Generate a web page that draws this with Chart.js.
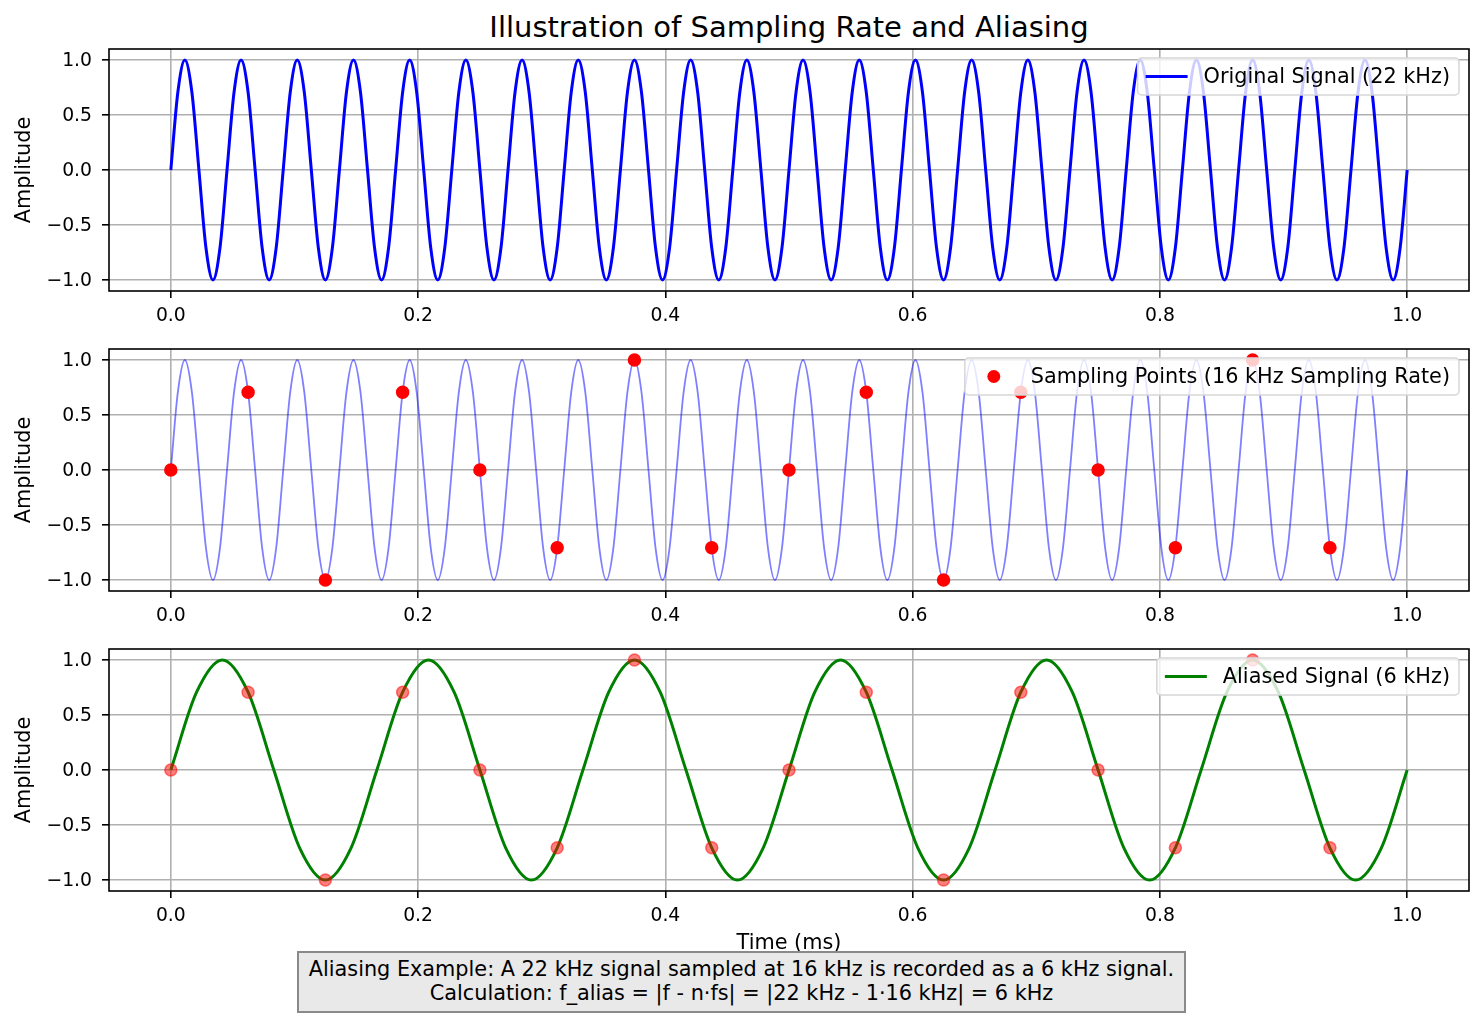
<!DOCTYPE html>
<html>
<head>
<meta charset="utf-8">
<script src="https://cdn.jsdelivr.net/npm/chart.js@4.4.1/dist/chart.umd.min.js"></script>
<style>
  body { margin: 0; background: #fff; }
  #wrap { position: relative; width: 1484px; height: 1020px; font-family: "DejaVu Sans", sans-serif; }
  canvas { position: absolute; left: 0; }
  #title { position: absolute; left: 289px; width: 1000px; top: 9px; text-align: center; font-size: 29px; line-height: 36px; color: #000; }
  #note { position: absolute; left: 297px; top: 951px; width: 885px; height: 54px; box-sizing: content-box;
          background: #e9e9e9; border: 2px solid #8a8a8a; text-align: center; font-size: 20.8px; line-height: 24px; padding-top: 4px; }
</style>
</head>
<body>
<div id="wrap">
  <div id="title">Illustration of Sampling Rate and Aliasing</div>
  <canvas id="c1" width="1484" height="331" style="top:0px"></canvas>
  <canvas id="c2" width="1484" height="320" style="top:311px"></canvas>
  <canvas id="c3" width="1484" height="345" style="top:611px"></canvas>
  <div id="note">Aliasing Example: A 22 kHz signal sampled at 16 kHz is recorded as a 6 kHz signal.<br>Calculation: f_alias = |f - n·fs| = |22 kHz - 1·16 kHz| = 6 kHz</div>
</div>
<script>
const xTicks = [0, 0.2, 0.4, 0.6, 0.8, 1.0];
const yTicks = [-1, -0.5, 0, 0.5, 1];

// 22 kHz signal, values read every 1/8 period
const origStep = 1 / 176;
const origValues = [
  0, 0.707, 1, 0.707, 0, -0.707, -1, -0.707,
  0, 0.707, 1, 0.707, 0, -0.707, -1, -0.707,
  0, 0.707, 1, 0.707, 0, -0.707, -1, -0.707,
  0, 0.707, 1, 0.707, 0, -0.707, -1, -0.707,
  0, 0.707, 1, 0.707, 0, -0.707, -1, -0.707,
  0, 0.707, 1, 0.707, 0, -0.707, -1, -0.707,
  0, 0.707, 1, 0.707, 0, -0.707, -1, -0.707,
  0, 0.707, 1, 0.707, 0, -0.707, -1, -0.707,
  0, 0.707, 1, 0.707, 0, -0.707, -1, -0.707,
  0, 0.707, 1, 0.707, 0, -0.707, -1, -0.707,
  0, 0.707, 1, 0.707, 0, -0.707, -1, -0.707,
  0, 0.707, 1, 0.707, 0, -0.707, -1, -0.707,
  0, 0.707, 1, 0.707, 0, -0.707, -1, -0.707,
  0, 0.707, 1, 0.707, 0, -0.707, -1, -0.707,
  0, 0.707, 1, 0.707, 0, -0.707, -1, -0.707,
  0, 0.707, 1, 0.707, 0, -0.707, -1, -0.707,
  0, 0.707, 1, 0.707, 0, -0.707, -1, -0.707,
  0, 0.707, 1, 0.707, 0, -0.707, -1, -0.707,
  0, 0.707, 1, 0.707, 0, -0.707, -1, -0.707,
  0, 0.707, 1, 0.707, 0, -0.707, -1, -0.707,
  0, 0.707, 1, 0.707, 0, -0.707, -1, -0.707,
  0, 0.707, 1, 0.707, 0, -0.707, -1, -0.707,
  0
];

// 6 kHz aliased signal, values every 1/8 period
const aliasStep = 1 / 48;
const aliasValues = [
  0, 0.707, 1, 0.707, 0, -0.707, -1, -0.707,
  0, 0.707, 1, 0.707, 0, -0.707, -1, -0.707,
  0, 0.707, 1, 0.707, 0, -0.707, -1, -0.707,
  0, 0.707, 1, 0.707, 0, -0.707, -1, -0.707,
  0, 0.707, 1, 0.707, 0, -0.707, -1, -0.707,
  0, 0.707, 1, 0.707, 0, -0.707, -1, -0.707,
  0
];

// samples at 16 kHz
const sampleTimes = [0, 0.0625, 0.125, 0.1875, 0.25, 0.3125, 0.375, 0.4375,
                     0.5, 0.5625, 0.625, 0.6875, 0.75, 0.8125, 0.875, 0.9375];
const sampleValues = [0, 0.707, -1, 0.707, 0, -0.707, 1, -0.707,
                      0, 0.707, -1, 0.707, 0, -0.707, 1, -0.707];

const FONT = "'DejaVu Sans', sans-serif";

function series(values, step) {
    return values.map((v, i) => ({ x: i * step, y: v }));
}
const samplePts = sampleTimes.map((t, i) => ({ x: t, y: sampleValues[i] }));

const frame = {
    id: 'frame',
    afterDatasetsDraw(chart) {
        const a = chart.chartArea, ctx = chart.ctx;
        ctx.save();
        ctx.strokeStyle = '#000';
        ctx.lineWidth = 1.6;
        ctx.strokeRect(a.left, a.top, a.right - a.left, a.bottom - a.top);
        ctx.restore();
    }
};

const boxLegend = {
    id: 'boxLegend',
    afterDraw(chart, args, o) {
        if (!o.label) return;
        const a = chart.chartArea, ctx = chart.ctx;
        ctx.save();
        ctx.font = '20.8px ' + FONT;
        const tw = ctx.measureText(o.label).width;
        const w = 8 + 42 + 16 + tw + 9;
        const h = 37;
        const x = a.right - 10 - w, y = a.top + 9;
        ctx.beginPath();
        ctx.roundRect(x, y, w, h, 4);
        ctx.fillStyle = 'rgba(255,255,255,0.8)';
        ctx.fill();
        ctx.strokeStyle = '#d6d6d6';
        ctx.lineWidth = 1.5;
        ctx.stroke();
        const cy = y + h / 2;
        if (o.kind === 'dot') {
            ctx.beginPath();
            ctx.arc(x + 8 + 21, cy, 6.5, 0, Math.PI * 2);
            ctx.fillStyle = o.color;
            ctx.fill();
        } else {
            ctx.beginPath();
            ctx.moveTo(x + 8, cy);
            ctx.lineTo(x + 8 + 42, cy);
            ctx.strokeStyle = o.color;
            ctx.lineWidth = 3;
            ctx.stroke();
        }
        ctx.fillStyle = '#000';
        ctx.textBaseline = 'middle';
        ctx.fillText(o.label, x + 8 + 42 + 16, cy + 1);
        ctx.restore();
    }
};

function makeChart(id, datasets, legend, topPad, xAxisH, xTitle) {
    return new Chart(document.getElementById(id), {
        type: 'line',
        data: { datasets: datasets },
        options: {
            responsive: false,
            animation: false,
            layout: { padding: { top: topPad, right: 15, left: 0, bottom: 0 } },
            plugins: {
                legend: { display: false },
                tooltip: { enabled: false },
                boxLegend: legend
            },
            scales: {
                x: {
                    type: 'linear',
                    min: -0.05,
                    max: 1.05,
                    afterBuildTicks: s => { s.ticks = xTicks.map(v => ({ value: v })); },
                    afterFit: s => { s.height = xAxisH; },
                    grid: { color: '#b0b0b0', lineWidth: 1.6, tickColor: '#000', tickLength: 7, tickWidth: 1.6 },
                    border: { display: false },
                    ticks: {
                        color: '#000', padding: 7, maxRotation: 0,
                        font: { family: FONT, size: 18.8 },
                        callback: v => v.toFixed(1)
                    },
                    title: {
                        display: !!xTitle, text: xTitle || '', color: '#000',
                        font: { family: FONT, size: 20.8 }, padding: { top: 6, bottom: 0 }
                    }
                },
                y: {
                    min: -1.1,
                    max: 1.1,
                    afterBuildTicks: s => { s.ticks = yTicks.map(v => ({ value: v })); },
                    afterFit: s => { s.width = 109; },
                    grid: { color: '#b0b0b0', lineWidth: 1.6, tickColor: '#000', tickLength: 7, tickWidth: 1.6 },
                    border: { display: false },
                    ticks: {
                        color: '#000', padding: 10, labelOffset: 1,
                        font: { family: FONT, size: 18.8 },
                        callback: v => v.toFixed(1).replace('-', '\u2212')
                    },
                    title: {
                        display: true, text: 'Amplitude', color: '#000',
                        font: { family: FONT, size: 20.8 }, padding: { top: 12, bottom: 0 }
                    }
                }
            }
        },
        plugins: [frame, boxLegend]
    });
}

makeChart('c1', [{
    data: series(origValues, origStep),
    borderColor: '#0000ff', borderWidth: 3, pointRadius: 0,
    cubicInterpolationMode: 'monotone'
}], { label: 'Original Signal (22 kHz)', kind: 'line', color: '#0000ff' }, 49, 40);

makeChart('c2', [{
    data: samplePts,
    showLine: false, pointRadius: 6, pointBorderWidth: 1.5,
    pointBackgroundColor: '#ff0000', pointBorderColor: '#ff0000'
}, {
    data: series(origValues, origStep),
    borderColor: 'rgba(0,0,255,0.5)', borderWidth: 1.8, pointRadius: 0,
    cubicInterpolationMode: 'monotone'
}], { label: 'Sampling Points (16 kHz Sampling Rate)', kind: 'dot', color: '#ff0000' }, 38, 40);

makeChart('c3', [{
    data: samplePts,
    showLine: false, pointRadius: 6, pointBorderWidth: 1.5,
    pointBackgroundColor: 'rgba(255,0,0,0.5)', pointBorderColor: 'rgba(255,0,0,0.5)'
}, {
    data: series(aliasValues, aliasStep),
    borderColor: '#008000', borderWidth: 3, pointRadius: 0,
    cubicInterpolationMode: 'monotone'
}], { label: 'Aliased Signal (6 kHz)', kind: 'line', color: '#008000' }, 38, 65, 'Time (ms)');
</script>
</body>
</html>
